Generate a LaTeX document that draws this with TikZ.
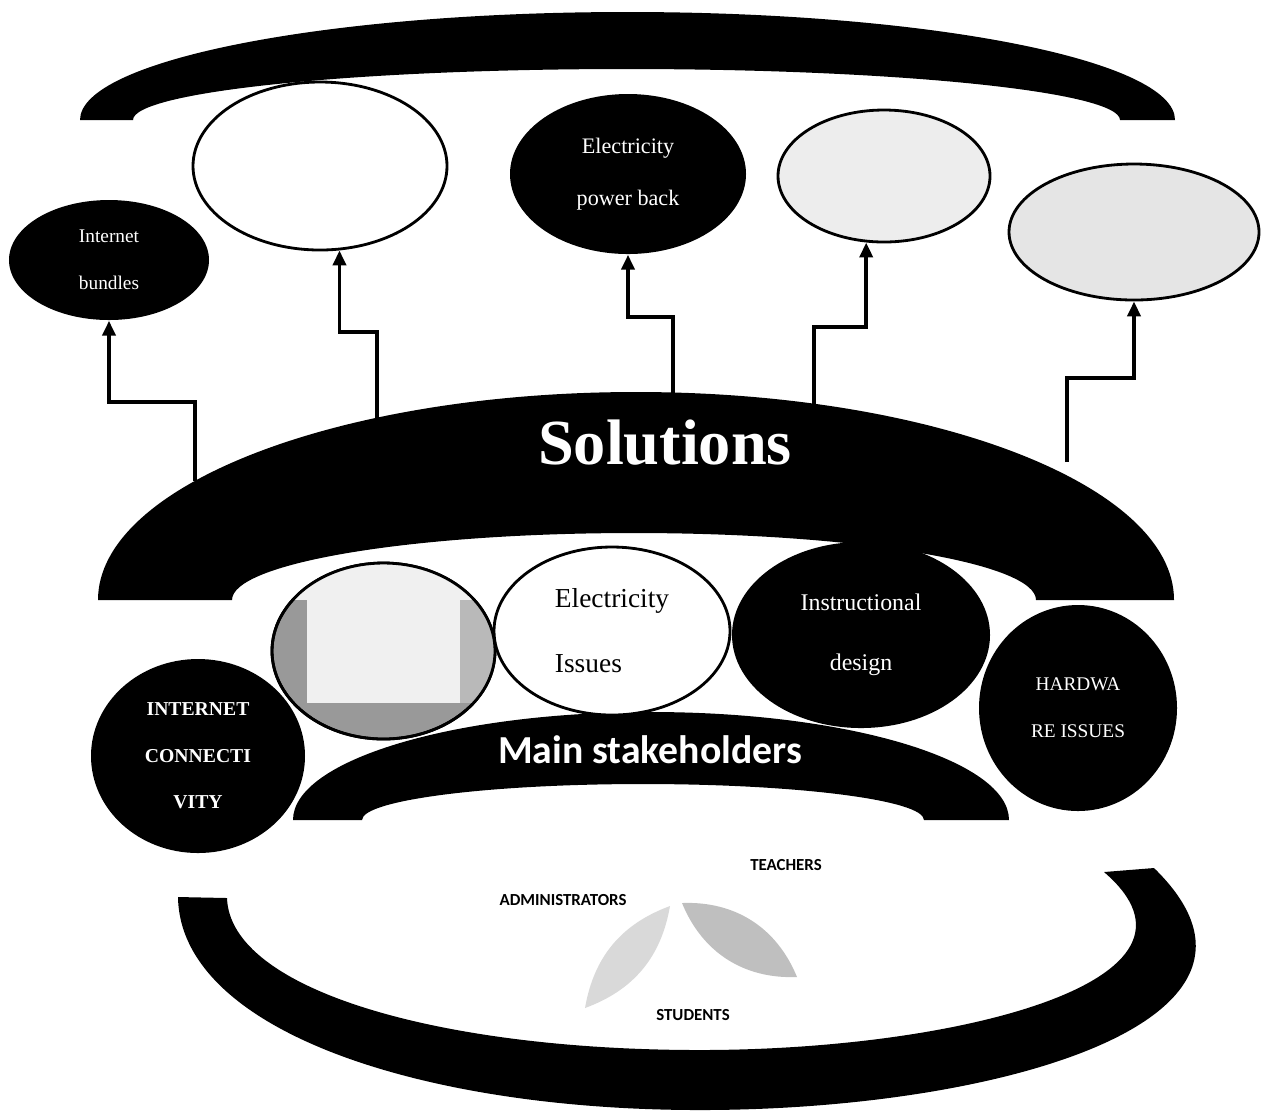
\documentclass[tikz,border=0pt]{standalone}
\usepackage{fontspec}
\setmainfont{Liberation Serif}
\newfontfamily\calibri{Carlito}
\usetikzlibrary{shapes.geometric,arrows.meta}
\tikzset{
  darkell/.style={ellipse, fill=black, text=white, inner sep=0pt, align=center},
  lightell/.style={ellipse, draw=black, line width=0.8pt, inner sep=0pt, align=center},
  arr/.style={line width=1.1pt, -{Triangle[length=1.5mm,width=1.3mm]}},
  role/.style={font=\calibri\bfseries\fontsize{4.8}{5}\selectfont, anchor=base}
}
\begin{document}
\begin{tikzpicture}
\useasboundingbox (0,0) rectangle (12.62,-11.16);
% bands
\fill (0.80,-1.20) arc[start angle=180,end angle=0,x radius=5.475,y radius=1.08]
  -- (11.20,-1.20) arc[start angle=0,end angle=180,x radius=4.935,y radius=0.51] -- cycle;
\fill (0.98,-6.00) arc[start angle=180,end angle=0,x radius=5.38,y radius=2.08]
  -- (10.36,-6.00) arc[start angle=0,end angle=180,x radius=4.02,y radius=0.67] -- cycle;
\fill (1.78,-8.97) .. controls (1.80,-10.30) and (4.20,-11.10) .. (7.00,-11.10)
  .. controls (10.00,-11.10) and (13.10,-10.20) .. (11.54,-8.68)
  -- (11.04,-8.72) .. controls (12.30,-9.80) and (9.60,-10.50) .. (7.00,-10.50)
  .. controls (4.40,-10.50) and (2.30,-9.90) .. (2.27,-8.98) -- cycle;
\fill (2.93,-8.20) arc[start angle=180,end angle=0,x radius=3.58,y radius=1.08]
  -- (9.24,-8.20) arc[start angle=0,end angle=180,x radius=2.81,y radius=0.36] -- cycle;

% top row
\node[darkell, minimum width=2.00cm, minimum height=1.20cm, font=\fontsize{5.5}{13.4}\selectfont] (bundles) at (1.09,-2.60) {Internet\\bundles};
\node[lightell, minimum width=2.54cm, minimum height=1.68cm] (blank) at (3.20,-1.66) {};
\node[darkell, minimum width=2.36cm, minimum height=1.60cm, font=\fontsize{6.3}{14.8}\selectfont] (power) at (6.28,-1.74) {Electricity\\power back};
\node[lightell, fill=gray!14, minimum width=2.12cm, minimum height=1.32cm] (faintA) at (8.84,-1.76) {};
\node[lightell, fill=gray!20, minimum width=2.50cm, minimum height=1.36cm] (faintB) at (11.34,-2.32) {};

\node[text=white, font=\bfseries\fontsize{18.3}{20}\selectfont] (sol) at (6.65,-4.43) {Solutions};

\coordinate (s1) at (1.95,-4.81);
\coordinate (s2) at (3.77,-4.18);
\coordinate (s3) at (6.73,-3.93);
\coordinate (s4) at (8.14,-4.04);
\coordinate (s5) at (10.67,-4.62);
\draw[arr] (s1) -- ++(0,0.79) -| (bundles.south);
\draw[arr] (s2) -- ++(0,0.86) -| (blank.283);
\draw[arr] (s3) -- ++(0,0.76) -| (power.south);
\draw[arr] (s4) -- ++(0,0.77) -| (faintA.255);
\draw[arr] (s5) -- ++(0,0.84) -| (faintB.south);

% middle row
\node[lightell, fill=gray!80, minimum width=2.23cm, minimum height=1.76cm] (pic) at (3.835,-6.51) {};
\begin{scope}
  \clip (pic.center) ellipse[x radius=1.115, y radius=0.88];
  \fill[gray!55] (4.60,-6.00) rectangle (5.00,-7.03);
  \fill[gray!12] (2.60,-5.50) rectangle (5.00,-6.00);
  \fill[gray!12] (3.07,-6.00) rectangle (4.60,-7.03);
\end{scope}
\draw[line width=0.8pt] (pic.center) ellipse[x radius=1.115, y radius=0.88];
\node[lightell, fill=white, minimum width=2.36cm, minimum height=1.68cm, align=left, font=\fontsize{7.8}{18.5}\selectfont] (elec) at (6.12,-6.31) {Electricity\\Issues};
\node[darkell, minimum width=2.58cm, minimum height=1.86cm, font=\fontsize{6.8}{17}\selectfont] (instr) at (8.61,-6.35) {Instructional\\design};
\node[darkell, minimum width=1.98cm, minimum height=2.06cm, font=\fontsize{5.5}{13.4}\selectfont] (hard) at (10.78,-7.08) {HARDWA\\RE ISSUES};

\node[text=white, font=\calibri\bfseries\fontsize{11.3}{13}\selectfont] (main) at (6.50,-7.50) {Main stakeholders};
\node[darkell, minimum width=2.14cm, minimum height=1.94cm, font=\bfseries\fontsize{5.6}{13.2}\selectfont] (inet) at (1.98,-7.56) {INTERNET\\CONNECTI\\VITY};

% stakeholders
\fill[gray!30] (6.70,-9.06) to[bend right=30] (5.85,-10.08) to[bend right=30] (6.70,-9.06);
\fill[gray!50] (6.82,-9.03) to[bend left=35] (7.97,-9.77) to[bend left=35] (6.82,-9.03);
\node[role] (teach) at (7.86,-8.70) {TEACHERS};
\node[role] (admin) at (5.63,-9.05) {ADMINISTRATORS};
\node[role] (stud) at (6.93,-10.20) {STUDENTS};
\end{tikzpicture}
\end{document}
